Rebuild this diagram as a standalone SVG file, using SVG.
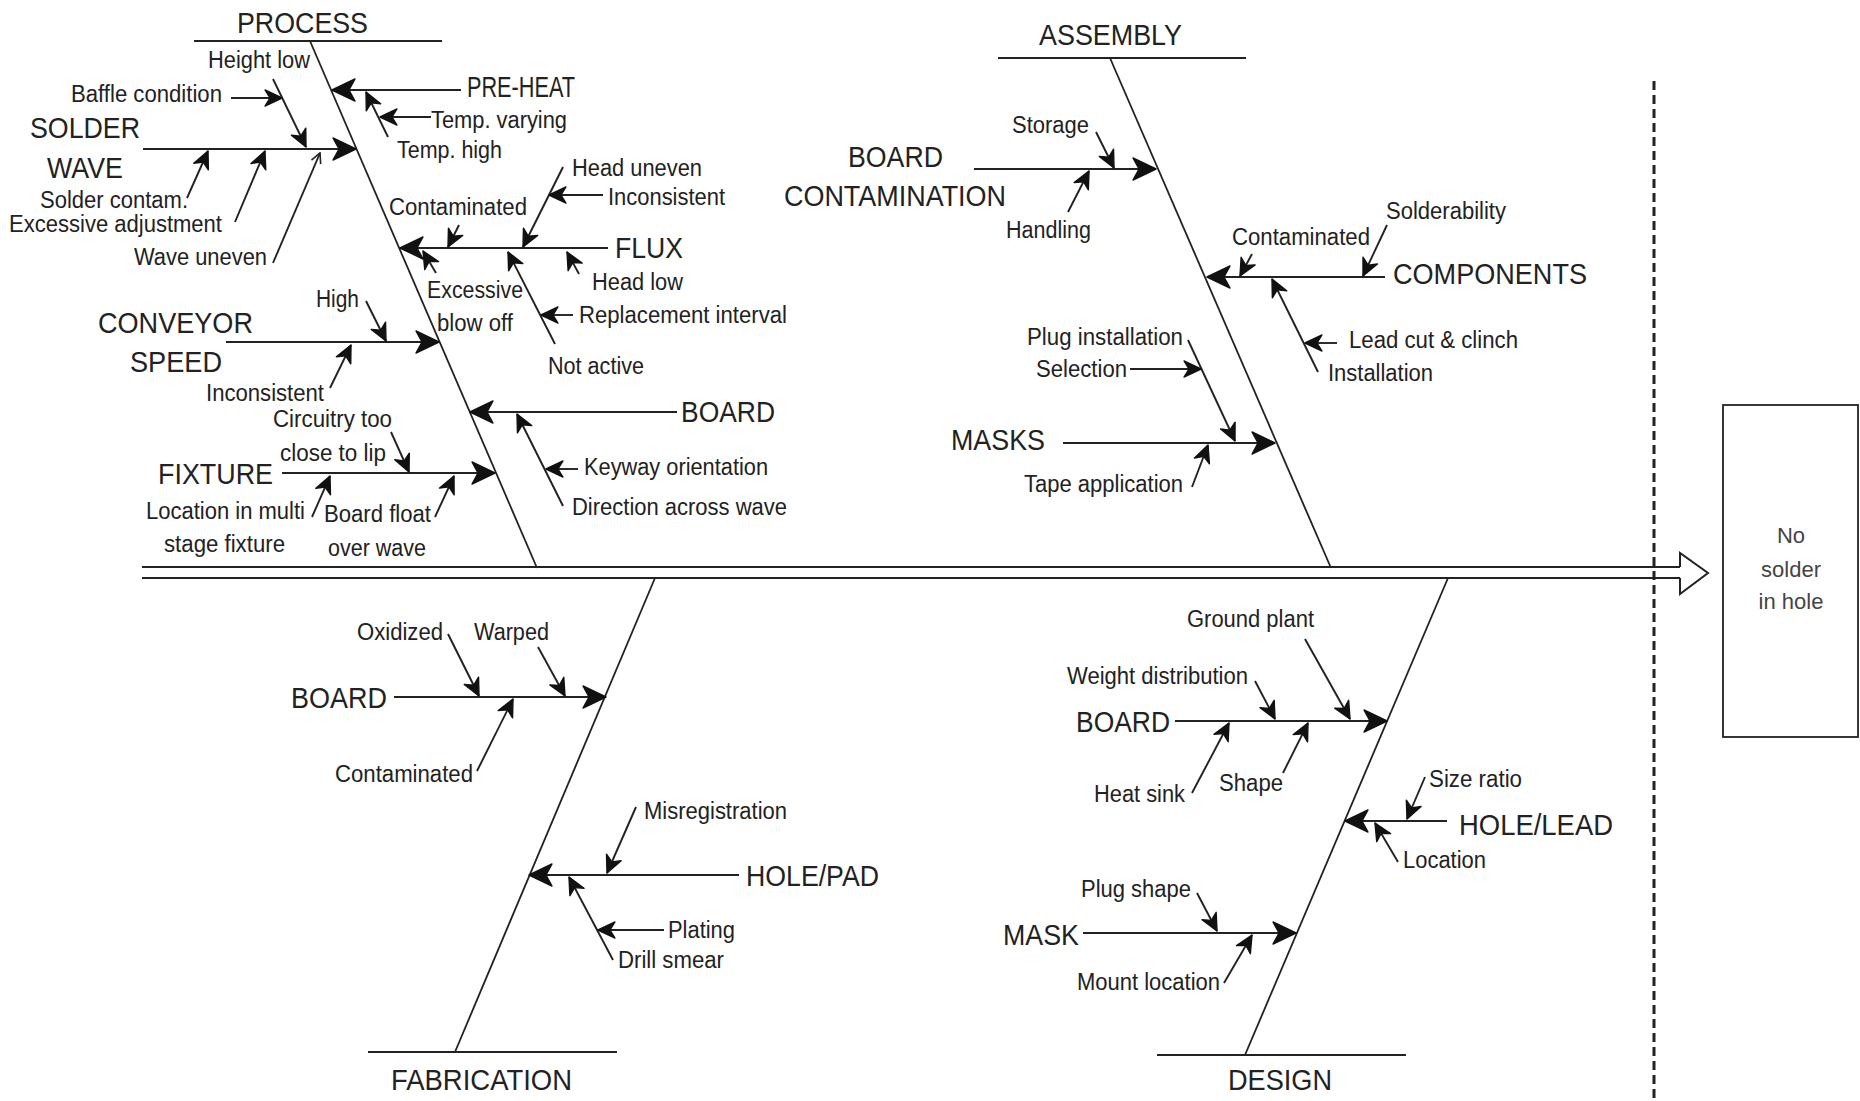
<svg xmlns="http://www.w3.org/2000/svg" width="1860" height="1101" viewBox="0 0 1860 1101">
  <style>
    text { font-family: "Liberation Sans", Arial, sans-serif; fill: #222; }
    .lbl { font-size: 23.5px; }
    .hd { font-size: 30px; }
    .box { font-size: 22px; fill: #444; text-anchor: middle; }
    .ln { stroke: #222; stroke-width: 2; fill: none; }
    .spine { stroke: #222; stroke-width: 1.8; fill: none; }
    .big { stroke: #222; stroke-width: 2.2; fill: none; }
    .sm { stroke: #222; stroke-width: 1.9; fill: none; }
    .open { stroke: #222; stroke-width: 1.9; fill: none; }
    .head { fill: #111; stroke: #111; stroke-width: 1.4; stroke-linejoin: round; }
  </style>
  <defs>
    <!-- solid barbed heads -->
    <marker id="headBig" markerUnits="userSpaceOnUse" orient="auto" viewBox="-2 -2 28 28" markerWidth="28" markerHeight="28" refX="23" refY="12">
      <path class="head" d="M0,1 L23,12 L0,23 L6,12 Z"/>
    </marker>
    <marker id="headSmall" markerUnits="userSpaceOnUse" orient="auto" viewBox="-2 -2 22 22" markerWidth="22" markerHeight="22" refX="17" refY="9">
      <path class="head" d="M0,1 L17,9 L0,17 L5,9 Z"/>
    </marker>
    <marker id="headOpen" markerUnits="userSpaceOnUse" orient="auto" viewBox="0 0 12 12" markerWidth="12" markerHeight="12" refX="11" refY="6">
      <path d="M1,1 L11,6 L1,11" fill="none" stroke="#222" stroke-width="1.6"/>
    </marker>
  </defs>
  <rect width="1860" height="1101" fill="#fff"/>

  <!-- all connecting lines of the fishbone -->
  <g id="connectors">
    <!-- main backbone with hollow arrow -->
    <line class="ln" x1="142" y1="567" x2="1680" y2="567"/>
    <line class="ln" x1="142" y1="578" x2="1680" y2="578"/>
    <path class="ln" d="M1680,567 L1680,553 L1708,573 L1680,594 L1680,578"/>
    <line x1="1654" y1="81" x2="1654" y2="1101" stroke="#222" stroke-width="3" stroke-dasharray="9 5"/>

    <!-- PROCESS -->
    <line class="ln" x1="194" y1="41" x2="442" y2="41"/>
    <line class="spine" x1="310" y1="41" x2="537" y2="568"/>
    <line class="big" marker-end="url(#headBig)" x1="143" y1="149" x2="356" y2="149"/>
    <line class="sm" marker-end="url(#headSmall)" x1="273" y1="79" x2="306" y2="147"/>
    <line class="sm" marker-end="url(#headSmall)" x1="231" y1="98" x2="282" y2="98"/>
    <line class="sm" marker-end="url(#headSmall)" x1="187" y1="198" x2="208" y2="151"/>
    <line class="sm" marker-end="url(#headSmall)" x1="235" y1="222" x2="265" y2="151"/>
    <line class="open" marker-end="url(#headOpen)" x1="273" y1="263" x2="320" y2="153"/>
    <line class="big" marker-end="url(#headBig)" x1="461" y1="90" x2="332" y2="90"/>
    <line class="sm" marker-end="url(#headSmall)" x1="431" y1="117" x2="380" y2="117"/>
    <line class="sm" marker-end="url(#headSmall)" x1="388" y1="137" x2="366" y2="92"/>
    <line class="big" marker-end="url(#headBig)" x1="608" y1="248" x2="400" y2="248"/>
    <line class="sm" marker-end="url(#headSmall)" x1="563" y1="167" x2="523" y2="247"/>
    <line class="sm" marker-end="url(#headSmall)" x1="603" y1="195" x2="549" y2="195"/>
    <line class="sm" marker-end="url(#headSmall)" x1="459" y1="225" x2="448" y2="247"/>
    <line class="sm" marker-end="url(#headSmall)" x1="436" y1="273" x2="423" y2="251"/>
    <line class="sm" marker-end="url(#headSmall)" x1="555" y1="344" x2="508" y2="252"/>
    <line class="sm" marker-end="url(#headSmall)" x1="573" y1="315" x2="541" y2="315"/>
    <line class="sm" marker-end="url(#headSmall)" x1="579" y1="274" x2="567" y2="252"/>
    <line class="big" marker-end="url(#headBig)" x1="226" y1="342" x2="439" y2="342"/>
    <line class="sm" marker-end="url(#headSmall)" x1="366" y1="301" x2="386" y2="341"/>
    <line class="sm" marker-end="url(#headSmall)" x1="330" y1="388" x2="351" y2="345"/>
    <line class="big" marker-end="url(#headBig)" x1="677" y1="412" x2="470" y2="412"/>
    <line class="sm" marker-end="url(#headSmall)" x1="578" y1="469" x2="546" y2="469"/>
    <line class="sm" marker-end="url(#headSmall)" x1="563" y1="506" x2="517" y2="414"/>
    <line class="big" marker-end="url(#headBig)" x1="282" y1="473" x2="495" y2="473"/>
    <line class="sm" marker-end="url(#headSmall)" x1="391" y1="432" x2="409" y2="472"/>
    <line class="sm" marker-end="url(#headSmall)" x1="312" y1="517" x2="330" y2="476"/>
    <line class="sm" marker-end="url(#headSmall)" x1="435" y1="517" x2="454" y2="476"/>

    <!-- ASSEMBLY -->
    <line class="ln" x1="998" y1="58" x2="1246" y2="58"/>
    <line class="spine" x1="1110" y1="58" x2="1331" y2="568"/>
    <line class="big" marker-end="url(#headBig)" x1="974" y1="169" x2="1156" y2="169"/>
    <line class="sm" marker-end="url(#headSmall)" x1="1096" y1="132" x2="1114" y2="168"/>
    <line class="sm" marker-end="url(#headSmall)" x1="1068" y1="212" x2="1089" y2="171"/>
    <line class="big" marker-end="url(#headBig)" x1="1385" y1="277" x2="1207" y2="277"/>
    <line class="sm" marker-end="url(#headSmall)" x1="1252" y1="254" x2="1240" y2="276"/>
    <line class="sm" marker-end="url(#headSmall)" x1="1387" y1="225" x2="1363" y2="276"/>
    <line class="sm" marker-end="url(#headSmall)" x1="1318" y1="372" x2="1272" y2="279"/>
    <line class="sm" marker-end="url(#headSmall)" x1="1337" y1="343" x2="1305" y2="343"/>
    <line class="big" marker-end="url(#headBig)" x1="1063" y1="443" x2="1275" y2="443"/>
    <line class="sm" marker-end="url(#headSmall)" x1="1188" y1="340" x2="1235" y2="441"/>
    <line class="sm" marker-end="url(#headSmall)" x1="1130" y1="369" x2="1201" y2="369"/>
    <line class="sm" marker-end="url(#headSmall)" x1="1192" y1="487" x2="1208" y2="445"/>

    <!-- FABRICATION -->
    <line class="spine" x1="655" y1="578" x2="455" y2="1052"/>
    <line class="ln" x1="368" y1="1052" x2="617" y2="1052"/>
    <line class="big" marker-end="url(#headBig)" x1="394" y1="697" x2="606" y2="697"/>
    <line class="sm" marker-end="url(#headSmall)" x1="448" y1="634" x2="479" y2="696"/>
    <line class="sm" marker-end="url(#headSmall)" x1="538" y1="647" x2="565" y2="696"/>
    <line class="sm" marker-end="url(#headSmall)" x1="477" y1="771" x2="513" y2="699"/>
    <line class="big" marker-end="url(#headBig)" x1="739" y1="875" x2="529" y2="875"/>
    <line class="sm" marker-end="url(#headSmall)" x1="636" y1="807" x2="607" y2="873"/>
    <line class="sm" marker-end="url(#headSmall)" x1="613" y1="960" x2="569" y2="877"/>
    <line class="sm" marker-end="url(#headSmall)" x1="664" y1="930" x2="598" y2="930"/>

    <!-- DESIGN -->
    <line class="spine" x1="1448" y1="578" x2="1245" y2="1055"/>
    <line class="ln" x1="1157" y1="1055" x2="1406" y2="1055"/>
    <line class="big" marker-end="url(#headBig)" x1="1175" y1="721" x2="1387" y2="721"/>
    <line class="sm" marker-end="url(#headSmall)" x1="1305" y1="639" x2="1350" y2="719"/>
    <line class="sm" marker-end="url(#headSmall)" x1="1255" y1="681" x2="1275" y2="719"/>
    <line class="sm" marker-end="url(#headSmall)" x1="1192" y1="793" x2="1229" y2="723"/>
    <line class="sm" marker-end="url(#headSmall)" x1="1283" y1="773" x2="1308" y2="723"/>
    <line class="big" marker-end="url(#headBig)" x1="1447" y1="821" x2="1345" y2="821"/>
    <line class="sm" marker-end="url(#headSmall)" x1="1425" y1="777" x2="1407" y2="819"/>
    <line class="sm" marker-end="url(#headSmall)" x1="1398" y1="862" x2="1375" y2="823"/>
    <line class="big" marker-end="url(#headBig)" x1="1083" y1="933" x2="1296" y2="933"/>
    <line class="sm" marker-end="url(#headSmall)" x1="1197" y1="893" x2="1217" y2="931"/>
    <line class="sm" marker-end="url(#headSmall)" x1="1224" y1="983" x2="1252" y2="935"/>
  </g>

  <g id="process">
    <text class="hd" x="237" y="33" textLength="131" lengthAdjust="spacingAndGlyphs">PROCESS</text>
    <text class="lbl" x="208" y="68" textLength="102" lengthAdjust="spacingAndGlyphs">Height low</text>
    <text class="lbl" x="71" y="102" textLength="151" lengthAdjust="spacingAndGlyphs">Baffle condition</text>
    <text class="hd" x="30" y="138" textLength="110" lengthAdjust="spacingAndGlyphs">SOLDER</text>
    <text class="hd" x="47" y="178" textLength="76" lengthAdjust="spacingAndGlyphs">WAVE</text>
    <text class="lbl" x="40" y="208" textLength="148" lengthAdjust="spacingAndGlyphs">Solder contam.</text>
    <text class="lbl" x="9" y="232" textLength="213" lengthAdjust="spacingAndGlyphs">Excessive adjustment</text>
    <text class="lbl" x="134" y="265" textLength="133" lengthAdjust="spacingAndGlyphs">Wave uneven</text>
    <text class="hd" x="467" y="97" textLength="108" lengthAdjust="spacingAndGlyphs">PRE-HEAT</text>
    <text class="lbl" x="431" y="128" textLength="136" lengthAdjust="spacingAndGlyphs">Temp. varying</text>
    <text class="lbl" x="397" y="158" textLength="105" lengthAdjust="spacingAndGlyphs">Temp. high</text>
    <text class="lbl" x="572" y="176" textLength="130" lengthAdjust="spacingAndGlyphs">Head uneven</text>
    <text class="lbl" x="608" y="205" textLength="117" lengthAdjust="spacingAndGlyphs">Inconsistent</text>
    <text class="lbl" x="389" y="215" textLength="138" lengthAdjust="spacingAndGlyphs">Contaminated</text>
    <text class="hd" x="615" y="258" textLength="68" lengthAdjust="spacingAndGlyphs">FLUX</text>
    <text class="lbl" x="427" y="298" textLength="96" lengthAdjust="spacingAndGlyphs">Excessive</text>
    <text class="lbl" x="437" y="331" textLength="76" lengthAdjust="spacingAndGlyphs">blow off</text>
    <text class="lbl" x="592" y="290" textLength="91" lengthAdjust="spacingAndGlyphs">Head low</text>
    <text class="lbl" x="579" y="323" textLength="208" lengthAdjust="spacingAndGlyphs">Replacement interval</text>
    <text class="lbl" x="548" y="374" textLength="96" lengthAdjust="spacingAndGlyphs">Not active</text>
    <text class="lbl" x="316" y="307" textLength="43" lengthAdjust="spacingAndGlyphs">High</text>
    <text class="hd" x="98" y="333" textLength="155" lengthAdjust="spacingAndGlyphs">CONVEYOR</text>
    <text class="hd" x="130" y="372" textLength="92" lengthAdjust="spacingAndGlyphs">SPEED</text>
    <text class="lbl" x="206" y="401" textLength="118" lengthAdjust="spacingAndGlyphs">Inconsistent</text>
    <text class="hd" x="681" y="422" textLength="94" lengthAdjust="spacingAndGlyphs">BOARD</text>
    <text class="lbl" x="273" y="427" textLength="119" lengthAdjust="spacingAndGlyphs">Circuitry too</text>
    <text class="lbl" x="280" y="461" textLength="106" lengthAdjust="spacingAndGlyphs">close to lip</text>
    <text class="hd" x="158" y="484" textLength="115" lengthAdjust="spacingAndGlyphs">FIXTURE</text>
    <text class="lbl" x="584" y="475" textLength="184" lengthAdjust="spacingAndGlyphs">Keyway orientation</text>
    <text class="lbl" x="572" y="515" textLength="215" lengthAdjust="spacingAndGlyphs">Direction across wave</text>
    <text class="lbl" x="146" y="519" textLength="159" lengthAdjust="spacingAndGlyphs">Location in multi</text>
    <text class="lbl" x="164" y="552" textLength="121" lengthAdjust="spacingAndGlyphs">stage fixture</text>
    <text class="lbl" x="324" y="522" textLength="107" lengthAdjust="spacingAndGlyphs">Board float</text>
    <text class="lbl" x="328" y="556" textLength="98" lengthAdjust="spacingAndGlyphs">over wave</text>
  </g>

  <g id="assembly">
    <text class="hd" x="1039" y="45" textLength="143" lengthAdjust="spacingAndGlyphs">ASSEMBLY</text>
    <text class="lbl" x="1012" y="133" textLength="77" lengthAdjust="spacingAndGlyphs">Storage</text>
    <text class="hd" x="848" y="167" textLength="95" lengthAdjust="spacingAndGlyphs">BOARD</text>
    <text class="hd" x="784" y="206" textLength="222" lengthAdjust="spacingAndGlyphs">CONTAMINATION</text>
    <text class="lbl" x="1006" y="238" textLength="85" lengthAdjust="spacingAndGlyphs">Handling</text>
    <text class="lbl" x="1386" y="219" textLength="120" lengthAdjust="spacingAndGlyphs">Solderability</text>
    <text class="lbl" x="1232" y="245" textLength="138" lengthAdjust="spacingAndGlyphs">Contaminated</text>
    <text class="hd" x="1393" y="284" textLength="194" lengthAdjust="spacingAndGlyphs">COMPONENTS</text>
    <text class="lbl" x="1349" y="348" textLength="169" lengthAdjust="spacingAndGlyphs">Lead cut &amp; clinch</text>
    <text class="lbl" x="1328" y="381" textLength="105" lengthAdjust="spacingAndGlyphs">Installation</text>
    <text class="lbl" x="1027" y="345" textLength="156" lengthAdjust="spacingAndGlyphs">Plug installation</text>
    <text class="lbl" x="1036" y="377" textLength="91" lengthAdjust="spacingAndGlyphs">Selection</text>
    <text class="hd" x="951" y="450" textLength="94" lengthAdjust="spacingAndGlyphs">MASKS</text>
    <text class="lbl" x="1024" y="492" textLength="159" lengthAdjust="spacingAndGlyphs">Tape application</text>
  </g>

  <g id="fabrication">
    <text class="lbl" x="357" y="640" textLength="86" lengthAdjust="spacingAndGlyphs">Oxidized</text>
    <text class="lbl" x="474" y="640" textLength="75" lengthAdjust="spacingAndGlyphs">Warped</text>
    <text class="hd" x="291" y="708" textLength="96" lengthAdjust="spacingAndGlyphs">BOARD</text>
    <text class="lbl" x="335" y="782" textLength="138" lengthAdjust="spacingAndGlyphs">Contaminated</text>
    <text class="lbl" x="644" y="819" textLength="143" lengthAdjust="spacingAndGlyphs">Misregistration</text>
    <text class="hd" x="746" y="886" textLength="133" lengthAdjust="spacingAndGlyphs">HOLE/PAD</text>
    <text class="lbl" x="668" y="938" textLength="67" lengthAdjust="spacingAndGlyphs">Plating</text>
    <text class="lbl" x="618" y="968" textLength="106" lengthAdjust="spacingAndGlyphs">Drill smear</text>
    <text class="hd" x="391" y="1090" textLength="181" lengthAdjust="spacingAndGlyphs">FABRICATION</text>
  </g>

  <g id="design">
    <text class="lbl" x="1187" y="627" textLength="127" lengthAdjust="spacingAndGlyphs">Ground plant</text>
    <text class="lbl" x="1067" y="684" textLength="181" lengthAdjust="spacingAndGlyphs">Weight distribution</text>
    <text class="hd" x="1076" y="732" textLength="94" lengthAdjust="spacingAndGlyphs">BOARD</text>
    <text class="lbl" x="1094" y="802" textLength="91" lengthAdjust="spacingAndGlyphs">Heat sink</text>
    <text class="lbl" x="1219" y="791" textLength="64" lengthAdjust="spacingAndGlyphs">Shape</text>
    <text class="lbl" x="1429" y="787" textLength="93" lengthAdjust="spacingAndGlyphs">Size ratio</text>
    <text class="hd" x="1459" y="835" textLength="154" lengthAdjust="spacingAndGlyphs">HOLE/LEAD</text>
    <text class="lbl" x="1403" y="868" textLength="83" lengthAdjust="spacingAndGlyphs">Location</text>
    <text class="lbl" x="1081" y="897" textLength="110" lengthAdjust="spacingAndGlyphs">Plug shape</text>
    <text class="hd" x="1003" y="945" textLength="76" lengthAdjust="spacingAndGlyphs">MASK</text>
    <text class="lbl" x="1077" y="990" textLength="143" lengthAdjust="spacingAndGlyphs">Mount location</text>
    <text class="hd" x="1228" y="1090" textLength="104" lengthAdjust="spacingAndGlyphs">DESIGN</text>
  </g>

  <g id="effect">
    <rect x="1723" y="405" width="135" height="332" fill="#fff" stroke="#222" stroke-width="1.8"/>
    <text class="box" x="1791" y="543">No</text>
    <text class="box" x="1791" y="577">solder</text>
    <text class="box" x="1791" y="609">in hole</text>
  </g>
</svg>
